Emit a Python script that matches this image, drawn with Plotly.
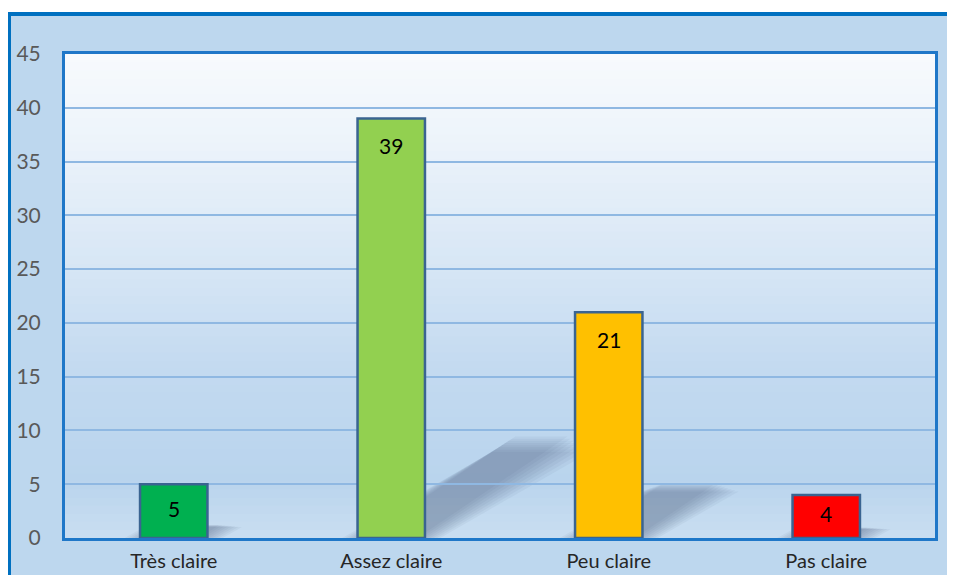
import plotly.graph_objects as go

categories = ["Très claire", "Assez claire", "Peu claire", "Pas claire"]
values = [5, 39, 21, 4]
bar_colors = ["#00b050", "#92d050", "#ffc000", "#ff0000"]
y_ticks = [0, 5, 10, 15, 20, 25, 30, 35, 40, 45]

FONT = "Lato"
W, H = 939, 567
L, R, T, B = 57, 12, 46, 37
pw, ph = W - L - R, H - T - B

fig = go.Figure()
bargap = 0.69
fig.add_trace(go.Bar(
    x=list(range(len(categories))), y=values,
    marker=dict(color=bar_colors, line=dict(color="#3a6491", width=2.5)),
    width=1 - bargap, hoverinfo="skip", showlegend=False,
))

shapes = []
# outer chart box
shapes.append(dict(type="rect", xref="paper", yref="paper",
                   x0=(1 - L) / pw, x1=(W + 20 - L) / pw,
                   y0=(H - B - (H + 20)) / ph, y1=(H - B - 6) / ph,
                   fillcolor="#bdd7ee", line=dict(color="#0070c0", width=4),
                   layer="below"))

# plot area vertical gradient
stops = [(0.0, (0xca, 0xde, 0xf1)), (0.12, (0xb9, 0xd4, 0xed)), (0.35, (0xc3, 0xda, 0xf0)),
         (0.6, (0xda, 0xe8, 0xf6)), (0.85, (0xef, 0xf5, 0xfb)), (1.0, (0xf7, 0xfa, 0xfd))]

def col(f):
    for (a, ca), (b, cb) in zip(stops[:-1], stops[1:]):
        if a <= f <= b:
            t = (f - a) / (b - a)
            c = [round(ca[i] + (cb[i] - ca[i]) * t) for i in range(3)]
            return "rgb(%d,%d,%d)" % tuple(c)
    return "rgb(247,250,253)"

n = 60
for i in range(n):
    f0, f1 = i / n, (i + 1) / n
    shapes.append(dict(type="rect", xref="x domain", yref="y domain",
                       x0=0, x1=1, y0=f0, y1=f1 + 0.002,
                       fillcolor=col((f0 + f1) / 2), line=dict(width=0), layer="below"))

# soft cast shadows derived from the bar values
hw = (1 - bargap) / 2
grows = [0.07, 0.055, 0.04, 0.025, 0.01, -0.005, -0.02, -0.035]
for i, v in enumerate(values):
    dx, dy = 0.0177 * v, 0.23 * v
    for g in grows:
        x0 = i - hw - g
        x1 = i + hw + g
        top = max(dy * (1 - g * 1.5), 0.1)
        path = "M %f,0 L %f,0 L %f,%f L %f,%f Z" % (x0, x1, x1 + dx, top, x0 + dx, top)
        shapes.append(dict(type="path", xref="x", yref="y", path=path,
                           fillcolor="rgba(70,90,115,0.06)", line=dict(width=0), layer="below"))

annotations = []
for i, v in enumerate(values):
    shift = min(27, v * ph / 45 / 2 - 3)
    annotations.append(dict(x=i, y=v, xref="x", yref="y", text=str(v), showarrow=False,
                            yshift=-shift, font=dict(family=FONT, size=21, color="#000000")))

fig.update_layout(
    width=W, height=H,
    margin=dict(l=L, r=R, t=T, b=B, autoexpand=False),
    paper_bgcolor="#ffffff", plot_bgcolor="rgba(0,0,0,0)",
    shapes=shapes, annotations=annotations,
    bargap=bargap,
    font=dict(family=FONT),
    xaxis=dict(tickmode="array", tickvals=list(range(len(categories))), ticktext=categories,
               range=[-0.5, len(categories) - 0.5], showgrid=False, zeroline=False,
               showline=True, linecolor="#1f77c8", linewidth=3, mirror=True,
               ticks="", ticklabelstandoff=3,
               tickfont=dict(family=FONT, size=20, color="#262626")),
    yaxis=dict(tickmode="array", tickvals=y_ticks, range=[0, 45],
               showgrid=True, gridcolor="#8fb8e2", gridwidth=1.6, zeroline=False,
               showline=True, linecolor="#1f77c8", linewidth=3, mirror=True,
               ticks="", ticklabelstandoff=17,
               tickfont=dict(family=FONT, size=21, color="#595959")),
)

fig.write_html("out.html")
